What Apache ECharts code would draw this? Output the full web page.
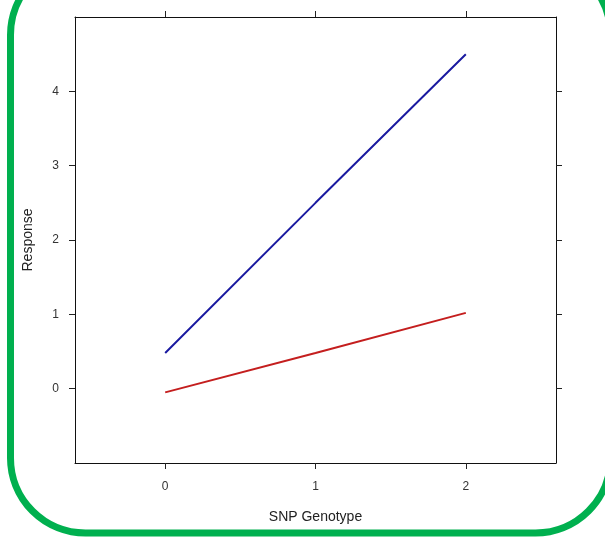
<!DOCTYPE html>
<html>
<head>
<meta charset="utf-8">
<style>
  html, body { margin: 0; padding: 0; background: #fff; }
  #chart { width: 605px; height: 539px; }
</style>
<script src="https://cdn.jsdelivr.net/npm/echarts@6/dist/echarts.min.js"></script>
</head>
<body>
<div id="chart"></div>
<script>
// 数据
const genotypes = [0, 1, 2];
const blueResponse = [0.48, 2.50, 4.50];
const redResponse = [-0.05, 0.48, 1.02];
const xTicks = [0, 1, 2];
const yTicks = [0, 1, 2, 3, 4];

const chart = echarts.init(document.getElementById('chart'));

const tickStyle = { show: true, inside: false, length: 6, lineStyle: { color: '#222', width: 1 } };
const lineStyleAxis = { show: true, onZero: false, lineStyle: { color: '#111', width: 1 } };
const labelFont = { fontFamily: 'Liberation Sans, Arial, sans-serif', fontSize: 12, color: '#333' };

const option = {
    animation: false,
    grid: { left: 75, right: 49, top: 17, bottom: 76 },
    xAxis: [
        {
            type: 'value', min: -0.6, max: 2.6, position: 'bottom',
            name: 'SNP Genotype', nameLocation: 'middle', nameGap: 47,
            nameTextStyle: { fontFamily: 'Liberation Sans, Arial, sans-serif', fontSize: 14, color: '#222' },
            axisLine: lineStyleAxis,
            splitLine: { show: false },
            axisTick: { ...tickStyle, customValues: xTicks },
            axisLabel: { ...labelFont, margin: 18, customValues: xTicks }
        },
        {
            type: 'value', min: -0.6, max: 2.6, position: 'top',
            axisLine: lineStyleAxis,
            splitLine: { show: false },
            axisTick: { ...tickStyle, customValues: xTicks },
            axisLabel: { show: false }
        }
    ],
    yAxis: [
        {
            type: 'value', min: -1, max: 5, position: 'left',
            name: 'Response', nameLocation: 'middle', nameGap: 40, nameRotate: 90,
            nameTextStyle: { fontFamily: 'Liberation Sans, Arial, sans-serif', fontSize: 14, color: '#222' },
            axisLine: lineStyleAxis,
            splitLine: { show: false },
            axisTick: { ...tickStyle, customValues: yTicks },
            axisLabel: { ...labelFont, margin: 16, customValues: yTicks }
        },
        {
            type: 'value', min: -1, max: 5, position: 'right',
            axisLine: lineStyleAxis,
            splitLine: { show: false },
            axisTick: { ...tickStyle, customValues: yTicks },
            axisLabel: { show: false }
        }
    ],
    series: [
        {
            type: 'line',
            data: genotypes.map((g, i) => [g, blueResponse[i]]),
            showSymbol: false,
            lineStyle: { color: '#1a1aa0', width: 2 }
        },
        {
            type: 'line',
            data: genotypes.map((g, i) => [g, redResponse[i]]),
            showSymbol: false,
            lineStyle: { color: '#c41e1e', width: 2 }
        }
    ],
    graphic: [
        {
            type: 'rect',
            shape: { x: 10.5, y: -40, width: 600, height: 573, r: 75 },
            style: { fill: 'none', stroke: '#00b04f', lineWidth: 7 },
            silent: true
        }
    ]
};

chart.setOption(option);
</script>
</body>
</html>
